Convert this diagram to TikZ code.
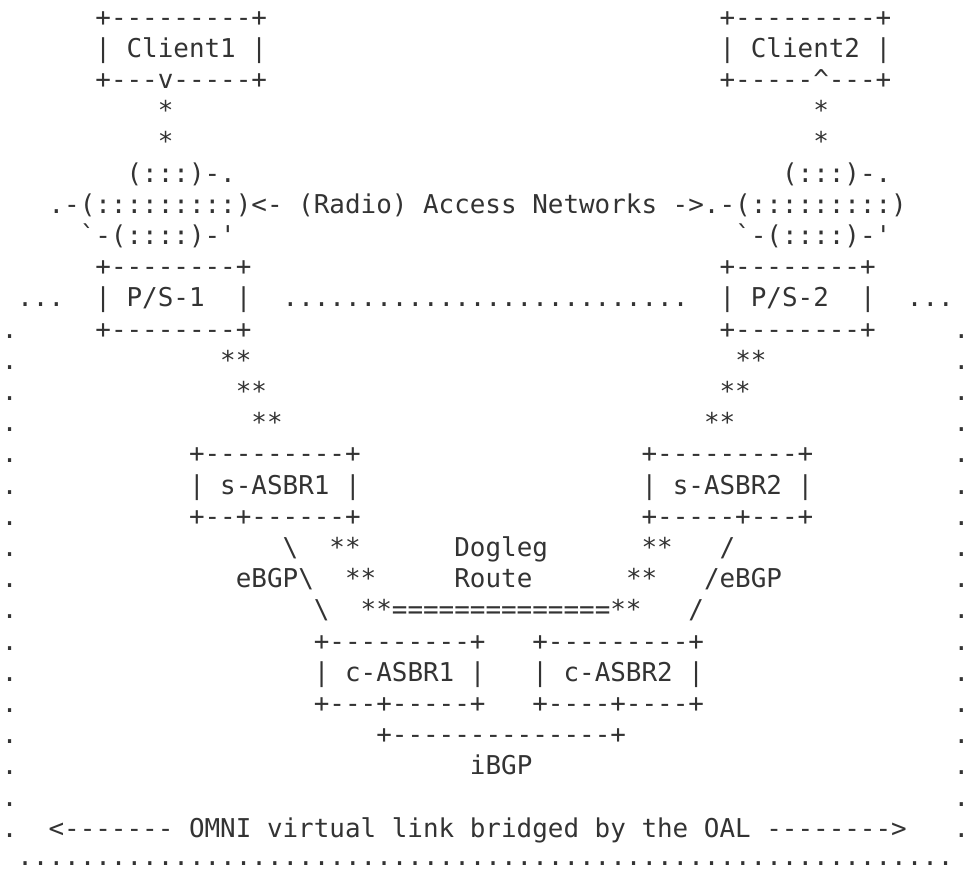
\documentclass[tikz,border=0pt]{standalone}
\usepackage{fontspec}
\setmonofont{DejaVu Sans Mono}
\definecolor{ink}{HTML}{333333}
\tikzset{seg/.style={anchor=base west, inner sep=0pt, outer sep=0pt, text=ink,
  font=\ttfamily\fontsize{25.92}{31.2}\selectfont},
  edgedot/.style={seg, anchor=base}}
% place a text segment at character column #2 of text row #3
\newcommand\asc[4]{\node[seg] (#1) at ({1.76+15.606*(#2)},{-26.1-31.2*((#3)-1)}) {#4};}
% a border dot centred on column #2 of row #3
\newcommand\bdot[3]{\node[edgedot] (#1) at ({1.76+15.606*(#2)+7.803},{-26.1-31.2*((#3)-1)}) {\makebox[4pt]{.}};}
\begin{document}
\begin{tikzpicture}[x=1pt,y=1pt]
\fill[white] (0,0) rectangle (964,-872);
\useasboundingbox (0,0) rectangle (964,-872);
% clients
\asc{c1a}{6}{1}{+---------+}
\asc{c1b}{6}{2}{| Client1 |}
\asc{c1c}{6}{3}{+---v-----+}
\asc{c2a}{46}{1}{+---------+}
\asc{c2b}{46}{2}{| Client2 |}
\asc{c2c}{46}{3}{+-----\textasciicircum---+}
\asc{s1a}{10}{4}{*}
\asc{s1b}{10}{5}{*}
\asc{s2a}{52}{4}{*}
\asc{s2b}{52}{5}{*}
% access networks
\asc{n1a}{8}{6}{(:::)-.}
\asc{n2a}{50}{6}{(:::)-.}
\asc{net}{3}{7}{.-(:::::::::)<- (Radio) Access Networks ->.-(:::::::::)}
\asc{n1c}{5}{8}{\textasciigrave-(::::)-\textquotesingle}
\asc{n2c}{47}{8}{\textasciigrave-(::::)-\textquotesingle}
% P/S boxes
\asc{p1a}{6}{9}{+--------+}
\asc{p2a}{46}{9}{+--------+}
\asc{dl}{1}{10}{...}
\asc{p1b}{6}{10}{|~P/S-1~~|}
\asc{dm}{18}{10}{..........................}
\asc{p2b}{46}{10}{|~P/S-2~~|}
\asc{dr}{58}{10}{...}
\asc{p1c}{6}{11}{+--------+}
\asc{p2c}{46}{11}{+--------+}
% links to s-ASBRs
\asc{a1}{14}{12}{**}
\asc{a2}{15}{13}{**}
\asc{a3}{16}{14}{**}
\asc{b1}{47}{12}{**}
\asc{b2}{46}{13}{**}
\asc{b3}{45}{14}{**}
% s-ASBRs
\asc{sa1}{12}{15}{+---------+}
\asc{sa1b}{12}{16}{| s-ASBR1 |}
\asc{sa1c}{12}{17}{+--+------+}
\asc{sa2}{41}{15}{+---------+}
\asc{sa2b}{41}{16}{| s-ASBR2 |}
\asc{sa2c}{41}{17}{+-----+---+}
% eBGP and dogleg
\asc{e1a}{18}{18}{\textbackslash}
\asc{d1a}{21}{18}{**}
\asc{dog}{29}{18}{Dogleg}
\asc{d2a}{41}{18}{**}
\asc{e2a}{46}{18}{/}
\asc{e1b}{15}{19}{eBGP\textbackslash}
\asc{d1b}{22}{19}{**}
\asc{route}{29}{19}{Route}
\asc{d2b}{40}{19}{**}
\asc{e2b}{45}{19}{/eBGP}
\asc{e1c}{20}{20}{\textbackslash}
\asc{dleg}{23}{20}{**==============**}
\asc{e2c}{44}{20}{/}
% c-ASBRs
\asc{ca1}{20}{21}{+---------+}
\asc{ca1b}{20}{22}{| c-ASBR1 |}
\asc{ca1c}{20}{23}{+---+-----+}
\asc{ca2}{34}{21}{+---------+}
\asc{ca2b}{34}{22}{| c-ASBR2 |}
\asc{ca2c}{34}{23}{+----+----+}
\asc{ib}{24}{24}{+--------------+}
\asc{ibl}{30}{25}{iBGP}
% OMNI link
\asc{omni}{3}{27}{<------- OMNI virtual link bridged by the OAL -------->}
\asc{bot}{1}{27.9}{............................................................}
\foreach \r in {11,...,27} {
  \bdot{lb\r}{0}{\r}
  \bdot{rb\r}{61}{\r}
}
\end{tikzpicture}
\end{document}
